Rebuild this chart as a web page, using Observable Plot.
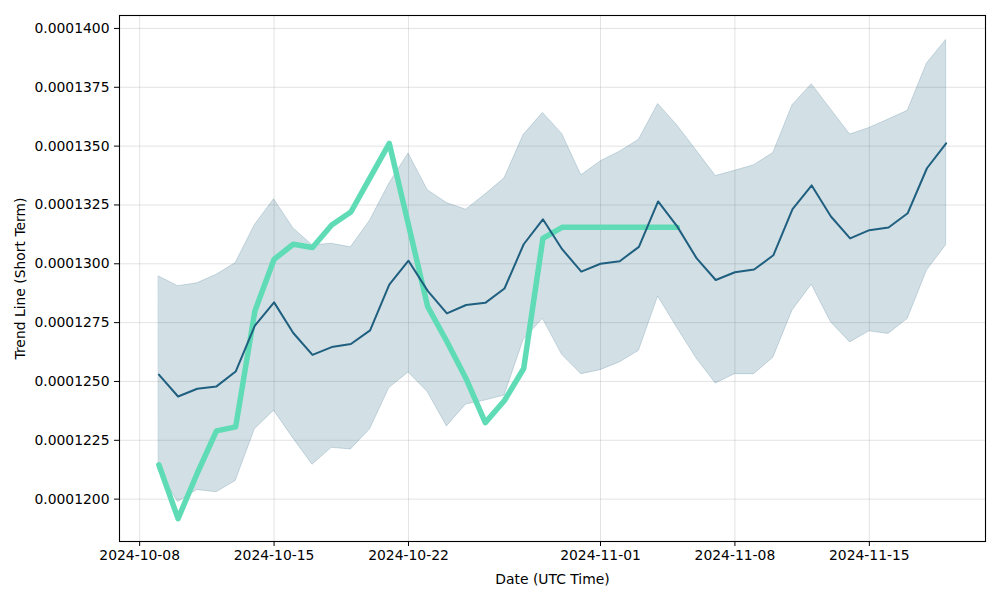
<!DOCTYPE html>
<html>
<head>
<meta charset="utf-8">
<script src="https://cdn.jsdelivr.net/npm/d3@7"></script>
<script src="https://cdn.jsdelivr.net/npm/@observablehq/plot@0.6"></script>
<style>
  html, body { margin: 0; padding: 0; background: #fff; }
  #chart { width: 1000px; height: 600px; }
</style>
</head>
<body>
<div id="chart"></div>
<script>
// ---- data ----
const dates = [
  "2024-10-09","2024-10-10","2024-10-11","2024-10-12","2024-10-13","2024-10-14","2024-10-15",
  "2024-10-16","2024-10-17","2024-10-18","2024-10-19","2024-10-20","2024-10-21","2024-10-22",
  "2024-10-23","2024-10-24","2024-10-25","2024-10-26","2024-10-27","2024-10-28","2024-10-29",
  "2024-10-30","2024-10-31","2024-11-01","2024-11-02","2024-11-03","2024-11-04","2024-11-05",
  "2024-11-06","2024-11-07","2024-11-08","2024-11-09","2024-11-10","2024-11-11","2024-11-12",
  "2024-11-13","2024-11-14","2024-11-15","2024-11-16","2024-11-17","2024-11-18","2024-11-19"
];
const trend = [
  0.00012529,0.00012436,0.00012469,0.00012479,0.00012542,0.00012737,0.00012836,
  0.00012706,0.00012613,0.00012646,0.00012659,0.00012717,0.00012911,0.00013013,
  0.00012885,0.00012789,0.00012825,0.00012834,0.00012895,0.00013083,0.00013189,
  0.00013062,0.00012967,0.00013000,0.00013011,0.00013072,0.00013265,0.00013158,
  0.00013024,0.00012931,0.00012964,0.00012976,0.00013036,0.00013232,0.00013333,
  0.00013201,0.00013108,0.00013143,0.00013154,0.00013215,0.00013406,0.00013512
];
const upper = [
  0.00012946,0.00012905,0.00012917,0.00012953,0.00013003,0.00013165,0.00013274,
  0.00013151,0.00013079,0.00013085,0.00013070,0.00013184,0.00013340,0.00013469,
  0.00013313,0.00013258,0.00013230,0.00013294,0.00013363,0.00013548,0.00013641,
  0.00013552,0.00013376,0.00013435,0.00013476,0.00013527,0.00013679,0.00013588,
  0.00013481,0.00013373,0.00013395,0.00013419,0.00013471,0.00013674,0.00013763,
  0.00013656,0.00013549,0.00013577,0.00013613,0.00013650,0.00013851,0.00013951
];
const lower = [
  0.00012120,0.00011988,0.00012039,0.00012029,0.00012077,0.00012297,0.00012376,
  0.00012258,0.00012146,0.00012218,0.00012211,0.00012297,0.00012472,0.00012538,
  0.00012455,0.00012309,0.00012402,0.00012419,0.00012440,0.00012677,0.00012766,
  0.00012613,0.00012531,0.00012548,0.00012581,0.00012630,0.00012861,0.00012727,
  0.00012598,0.00012491,0.00012531,0.00012531,0.00012601,0.00012802,0.00012911,
  0.00012752,0.00012666,0.00012713,0.00012702,0.00012766,0.00012971,0.00013079
];
const shortDates = dates.slice(0, 28);
const shortTrend = [
  0.00012146,0.00011917,0.00012110,0.00012290,0.00012307,0.00012799,0.00013019,
  0.00013083,0.00013069,0.00013165,0.00013220,0.00013366,0.00013512,0.00013165,
  0.00012818,0.00012670,0.00012512,0.00012325,0.00012419,0.00012555,0.00013108,
  0.00013155,0.00013155,0.00013155,0.00013155,0.00013155,0.00013155,0.00013155
];
const xTickLabels = ["2024-10-08","2024-10-15","2024-10-22","2024-11-01","2024-11-08","2024-11-15"];
const yTickValues = [0.00012,0.0001225,0.000125,0.0001275,0.00013,0.0001325,0.000135,0.0001375,0.00014];
const xLabel = "Date (UTC Time)";
const yLabel = "Trend Line (Short Term)";

// ---- tables ----
const rows = dates.map((d, i) => ({date: new Date(d + "T00:00Z"), trend: trend[i], upper: upper[i], lower: lower[i]}));
const shortRows = shortDates.map((d, i) => ({date: new Date(d + "T00:00Z"), value: shortTrend[i]}));
const xTicks = xTickLabels.map(d => new Date(d + "T00:00Z"));

const main = "#1f5f7f";
const green = "#5fdcb6";

const chart = Plot.plot({
  width: 1000,
  height: 600,
  marginLeft: 119,
  marginRight: 15,
  marginTop: 15,
  marginBottom: 59,
  style: {fontFamily: "'DejaVu Sans', sans-serif", fontSize: "13.9px", color: "black", background: "white", overflow: "visible"},
  x: {type: "utc", domain: [new Date("2024-10-06T22:48Z"), new Date("2024-11-21T01:12Z")]},
  y: {domain: [0.0001182, 0.00014055]},
  marks: [
    Plot.gridX(xTicks, {stroke: "#b0b0b0", strokeOpacity: 0.45, strokeWidth: 0.8}),
    Plot.gridY(yTickValues, {stroke: "#b0b0b0", strokeOpacity: 0.45, strokeWidth: 0.8}),
    Plot.areaY(rows, {x: "date", y1: "lower", y2: "upper", fill: main, fillOpacity: 0.2, stroke: main, strokeOpacity: 0.2, strokeWidth: 1}),
    Plot.lineY(shortRows, {x: "date", y: "value", stroke: green, strokeWidth: 5.5}),
    Plot.lineY(rows, {x: "date", y: "trend", stroke: main, strokeWidth: 2}),
    Plot.frame({stroke: "black", strokeWidth: 1.1}),
    Plot.axisX({ticks: xTicks, tickFormat: d3.utcFormat("%Y-%m-%d"), tickSize: 5, tickPadding: 4,
      label: xLabel, labelAnchor: "center", labelOffset: 42, labelArrow: false}),
    Plot.axisY({ticks: yTickValues, tickFormat: d3.format(".7f"), tickSize: 5, tickPadding: 5,
      label: yLabel, labelAnchor: "center", labelOffset: 104, labelArrow: false})
  ]
});
document.getElementById("chart").appendChild(chart);
</script>
</body>
</html>
